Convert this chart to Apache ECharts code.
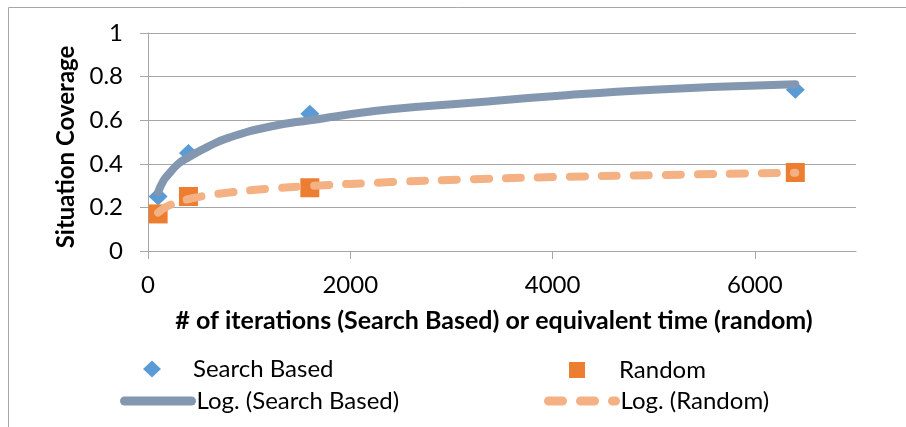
<!DOCTYPE html>
<html>
<head>
<meta charset="utf-8">
<script src="https://cdn.jsdelivr.net/npm/echarts@6/dist/echarts.min.js"></script>
<style>
  html, body { margin: 0; padding: 0; background: #fff; }
  #chart { width: 906px; height: 427px; }
</style>
</head>
<body>
<div id="chart"></div>
<script>
// measured points
const iterations = [100, 400, 1600, 6400]
const searchBased = [0.25, 0.45, 0.63, 0.74]
const randomCov = [0.17, 0.25, 0.29, 0.36]

// log trendlines
const trendX = [100, 150, 200, 300, 400, 600, 800, 1200, 1600, 2400, 3200, 4000, 5000, 6400]
const trendSearch = [0.27, 0.32, 0.35, 0.40, 0.43, 0.48, 0.52, 0.57, 0.60, 0.65, 0.68, 0.71, 0.74, 0.765]
const trendRandom = [0.176, 0.194, 0.207, 0.225, 0.238, 0.256, 0.268, 0.286, 0.298, 0.316, 0.329, 0.339, 0.348, 0.359]

const xTicks = [0, 2000, 4000, 6000]

const font = 'Lato'
const gridColor = '#a6a6a6'
const blue = '#5b9bd5'
const orange = '#ed7d31'
const trendBlue = '#8497b0'
const trendOrange = '#f4b183'

const pairs = (xs, ys) => xs.map((x, i) => [x, ys[i]])

const chart = echarts.init(document.getElementById('chart'))

const legendText = { fontFamily: font, fontSize: 24, color: '#000' }

chart.setOption({
  animation: false,
  textStyle: { fontFamily: font },
  grid: { left: 148, top: 33, right: 50, bottom: 176, containLabel: false },
  graphic: [
    {
      type: 'rect',
      shape: { x: 8.5, y: 7.5, width: 1000, height: 1000 },
      style: { fill: 'none', stroke: gridColor, lineWidth: 1 },
      silent: true
    }
  ],
  legend: [
    {
      data: ['Search Based'],
      left: 143, top: 357, padding: 0,
      itemWidth: 18, itemHeight: 17,
      selectedMode: false,
      textStyle: Object.assign({ padding: [0, 0, 0, 27] }, legendText)
    },
    {
      data: ['Random'],
      left: 569, top: 358, padding: 0,
      itemWidth: 16, itemHeight: 16,
      selectedMode: false,
      textStyle: Object.assign({ padding: [0, 0, 0, 29] }, legendText)
    },
    {
      // line only, the symbol is hidden
      data: ['Log. (Search Based)'],
      left: 120, top: 389, padding: 0,
      itemWidth: 67, itemHeight: 18,
      selectedMode: false,
      itemStyle: { opacity: 0 },
      lineStyle: { width: 9, cap: 'round', color: trendBlue, opacity: 1 },
      textStyle: legendText
    },
    {
      data: ['Log. (Random)'],
      left: 544, top: 389, padding: 0,
      itemWidth: 67, itemHeight: 18,
      selectedMode: false,
      itemStyle: { opacity: 0 },
      lineStyle: { width: 9, cap: 'round', type: [14, 18], color: trendOrange, opacity: 1 },
      textStyle: legendText
    }
  ],
  xAxis: {
    type: 'value',
    min: 0,
    max: 7000,
    interval: 2000,
    name: '# of iterations (Search Based) or equivalent time (random)',
    nameLocation: 'middle',
    nameGap: 57,
    nameTextStyle: { fontFamily: font, fontSize: 25, fontWeight: 'bold', color: '#000', padding: [0, 16, 0, 0] },
    axisLine: { show: true, lineStyle: { color: gridColor, width: 1 } },
    axisTick: { show: true, length: 8, customValues: xTicks, lineStyle: { color: gridColor } },
    axisLabel: {
      customValues: xTicks, fontFamily: font, fontSize: 24, color: '#000', margin: 22,
      formatter: (v) => String(v)
    },
    splitLine: { show: false }
  },
  yAxis: {
    type: 'value',
    min: 0,
    max: 1,
    interval: 0.2,
    name: 'Situation Coverage',
    nameLocation: 'middle',
    nameGap: 61,
    nameTextStyle: { fontFamily: font, fontSize: 24, fontWeight: 'bold', color: '#000', padding: [0, 10, 0, 0] },
    axisLine: { show: true, lineStyle: { color: gridColor, width: 1 } },
    axisTick: { show: true, length: 8, lineStyle: { color: gridColor } },
    axisLabel: { fontFamily: font, fontSize: 24, color: '#000', margin: 25 },
    splitLine: { show: true, lineStyle: { color: gridColor, width: 1 } }
  },
  series: [
    {
      name: 'Search Based',
      type: 'scatter',
      symbol: 'diamond',
      symbolSize: [19, 18],
      itemStyle: { color: blue, opacity: 1 },
      data: pairs(iterations, searchBased)
    },
    {
      name: 'Random',
      type: 'scatter',
      symbol: 'rect',
      symbolSize: 19,
      itemStyle: { color: orange, opacity: 1 },
      data: pairs(iterations, randomCov)
    },
    {
      name: 'Log. (Search Based)',
      type: 'line',
      smooth: true,
      symbol: 'none',
      lineStyle: { color: trendBlue, width: 8, cap: 'round' },
      itemStyle: { color: trendBlue },
      data: pairs(trendX, trendSearch)
    },
    {
      name: 'Log. (Random)',
      type: 'line',
      smooth: true,
      symbol: 'none',
      lineStyle: { color: trendOrange, width: 8, cap: 'round', type: [15, 17] },
      itemStyle: { color: trendOrange },
      data: pairs(trendX, trendRandom)
    }
  ]
})
</script>
</body>
</html>
